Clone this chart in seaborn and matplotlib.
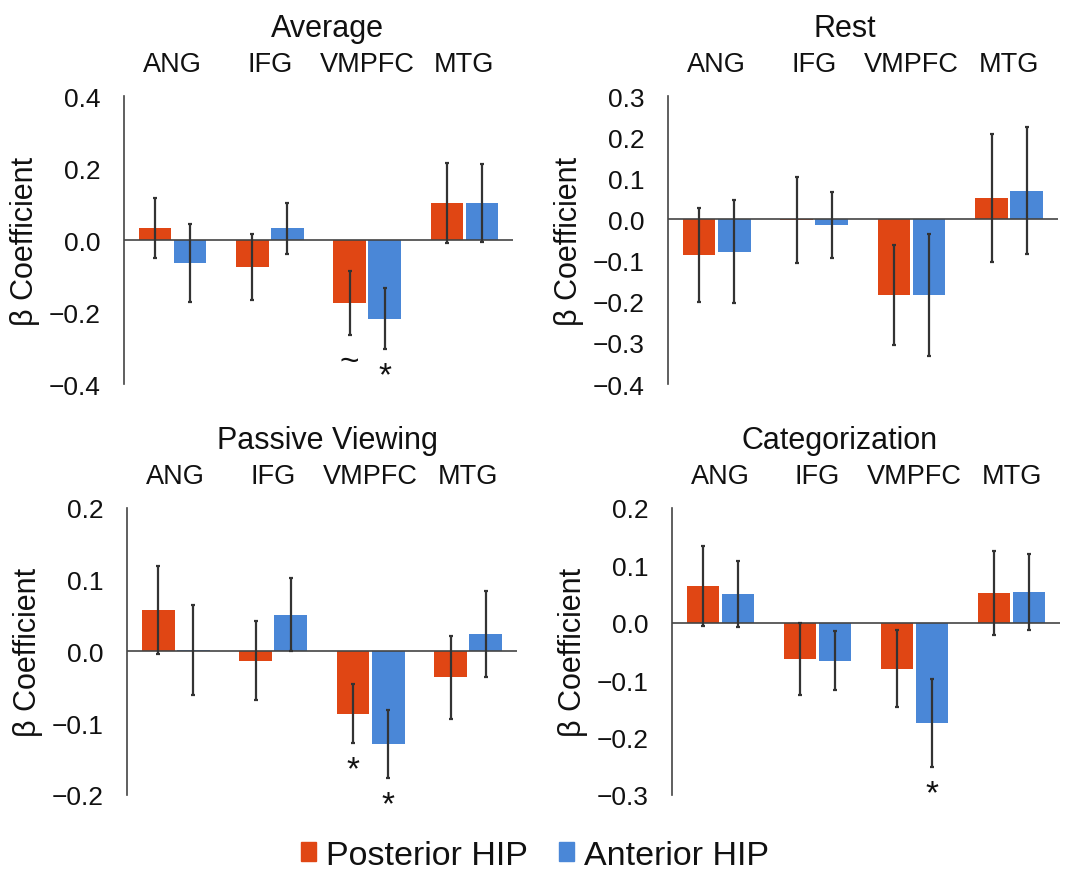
import seaborn as sns
import matplotlib.pyplot as plt
import pandas as pd
from matplotlib.patches import Patch

# ---- data ----
regions = ["ANG", "IFG", "VMPFC", "MTG"]
hips = ["Posterior HIP", "Anterior HIP"]

avg_post = [0.034, -0.074, -0.175, 0.103]
avg_ant = [-0.064, 0.032, -0.219, 0.103]
avg_post_err = [0.083, 0.092, 0.088, 0.110]
avg_ant_err = [0.108, 0.070, 0.085, 0.108]
avg_post_marks = ["", "", "~", ""]
avg_ant_marks = ["", "", "*", ""]
avg_ticks = [-0.4, -0.2, 0.0, 0.2, 0.4]

rest_post = [-0.086, -0.002, -0.183, 0.052]
rest_ant = [-0.078, -0.013, -0.183, 0.070]
rest_post_err = [0.114, 0.105, 0.122, 0.155]
rest_ant_err = [0.126, 0.080, 0.148, 0.154]
rest_post_marks = ["", "", "", ""]
rest_ant_marks = ["", "", "", ""]
rest_ticks = [-0.4, -0.3, -0.2, -0.1, 0.0, 0.1, 0.2, 0.3]

pv_post = [0.058, -0.013, -0.087, -0.036]
pv_ant = [0.002, 0.051, -0.129, 0.024]
pv_post_err = [0.061, 0.055, 0.041, 0.058]
pv_ant_err = [0.063, 0.051, 0.047, 0.060]
pv_post_marks = ["", "", "*", ""]
pv_ant_marks = ["", "", "*", ""]
pv_ticks = [-0.2, -0.1, 0.0, 0.1, 0.2]

cat_post = [0.064, -0.063, -0.080, 0.052]
cat_ant = [0.050, -0.066, -0.175, 0.054]
cat_post_err = [0.070, 0.063, 0.067, 0.073]
cat_ant_err = [0.058, 0.052, 0.077, 0.066]
cat_post_marks = ["", "", "", ""]
cat_ant_marks = ["", "", "*", ""]
cat_ticks = [-0.3, -0.2, -0.1, 0.0, 0.1, 0.2]

red = "#E04614"
blue = "#4A87D7"
dark = "#444444"

sns.set_theme(style="white")
plt.rcParams["font.family"] = ["Liberation Sans", "DejaVu Sans"]


def draw(ax, title, title_x, post, ant, post_err, ant_err, post_marks, ant_marks, ticks):
    df = pd.DataFrame({
        "region": regions * 2,
        "hip": [hips[0]] * len(regions) + [hips[1]] * len(regions),
        "beta": post + ant,
    })
    sns.barplot(data=df, x="region", y="beta", hue="hip", order=regions,
                hue_order=hips, palette=[red, blue], saturation=1,
                width=0.72, gap=0.07, errorbar=None, legend=False,
                linewidth=0, ax=ax)
    ax.axhline(0, color=dark, lw=1.2, zorder=1)
    for patch, val, err, mark in zip(ax.patches, post + ant, post_err + ant_err,
                                     post_marks + ant_marks):
        xc = patch.get_x() + patch.get_width() / 2
        ax.errorbar(xc, val, yerr=err, color="#333333", lw=1.6,
                    capsize=1.5, capthick=1.6, zorder=3)
        if mark:
            ax.annotate(mark, (xc, val - err), xytext=(0, -8),
                        textcoords="offset points", ha="center", va="top",
                        fontsize=24, color="#111111")

    ax.set_xlim(-0.5, 3.5)
    ax.set_ylim(ticks[0], ticks[-1])
    ax.set_yticks(ticks)
    ax.set_yticklabels([f"{t:.1f}".replace("-", "\u2212") for t in ticks])
    ax.xaxis.tick_top()
    ax.tick_params(axis="x", length=0, pad=13.5, labelsize=19.5, colors="#111111")
    ax.tick_params(axis="y", length=0, pad=17, labelsize=19, colors="#111111")
    ax.set_xlabel("")
    ax.set_ylabel("β Coefficient", fontsize=22, labelpad=6, color="#111111")
    ax.set_title(title, fontsize=22, pad=11, x=title_x, color="#111111")
    for s in ["top", "right", "bottom"]:
        ax.spines[s].set_visible(False)
    ax.spines["left"].set_color(dark)
    ax.spines["left"].set_linewidth(1.2)


fig = plt.figure(figsize=(10.79, 8.78), dpi=100)
ax1 = fig.add_axes([0.1149, 0.5615, 0.3605, 0.328])
ax2 = fig.add_axes([0.619, 0.5615, 0.3614, 0.328])
ax3 = fig.add_axes([0.1177, 0.0934, 0.3614, 0.327])
ax4 = fig.add_axes([0.6228, 0.0934, 0.3596, 0.327])

draw(ax1, "Average", 0.524, avg_post, avg_ant, avg_post_err, avg_ant_err,
     avg_post_marks, avg_ant_marks, avg_ticks)
draw(ax2, "Rest", 0.454, rest_post, rest_ant, rest_post_err, rest_ant_err,
     rest_post_marks, rest_ant_marks, rest_ticks)
draw(ax3, "Passive Viewing", 0.513, pv_post, pv_ant, pv_post_err, pv_ant_err,
     pv_post_marks, pv_ant_marks, pv_ticks)
draw(ax4, "Categorization", 0.433, cat_post, cat_ant, cat_post_err, cat_ant_err,
     cat_post_marks, cat_ant_marks, cat_ticks)

handles = [Patch(color=red, label=hips[0]), Patch(color=blue, label=hips[1])]
fig.legend(handles=handles, loc="center", bbox_to_anchor=(0.496, 0.025),
           ncol=2, frameon=False, fontsize=24.5, handlelength=0.45,
           handleheight=0.45, handletextpad=0.3, columnspacing=0.9,
           labelcolor="#111111")

fig.savefig("out.png", dpi=100)
